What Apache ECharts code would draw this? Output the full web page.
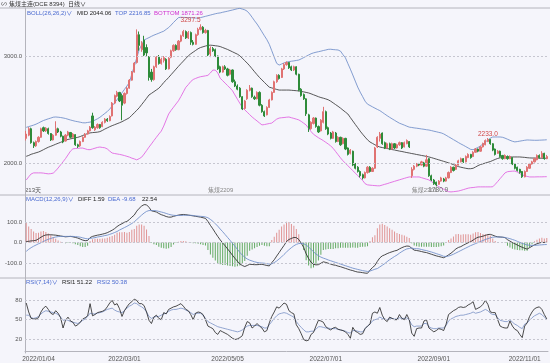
<!DOCTYPE html>
<html><head><meta charset="utf-8">
<script src="https://cdn.jsdelivr.net/npm/echarts/dist/echarts.min.js"></script>
<style>html,body{margin:0;padding:0;background:#f5f5fb}#c{width:550px;height:363px}</style>
</head><body><div id="c"></div>
<script>
// [open, close, low, high] per trading day
const candles = [
[2230,2270,2210,2300],[2260,2320,2250,2335],[2320,2190,2180,2330],[2190,2160,2140,2200],[2160,2200,2150,2210],[2200,2240,2190,2250],[2240,2320,2235,2330],[2330,2300,2290,2340],[2300,2325,2290,2335],[2320,2275,2265,2330],
[2275,2215,2205,2280],[2215,2260,2210,2270],[2260,2320,2255,2390],[2320,2290,2280,2330],[2290,2250,2240,2300],[2250,2196,2185,2255],[2205,2260,2200,2270],[2260,2290,2250,2300],[2285,2240,2230,2290],[2240,2270,2235,2280],
[2265,2170,2160,2270],[2170,2155,2140,2180],[2160,2200,2150,2210],[2200,2240,2195,2250],[2240,2270,2235,2280],[2270,2300,2265,2310],[2300,2335,2295,2345],[2440,2330,2320,2470],[2310,2335,2300,2345],[2330,2360,2320,2370],
[2360,2330,2320,2365],[2340,2380,2335,2390],[2380,2410,2370,2420],[2410,2395,2385,2420],[2395,2435,2390,2445],[2440,2560,2435,2570],[2560,2630,2550,2640],[2625,2660,2615,2675],[2660,2580,2570,2665],[2630,2540,2400,2645],
[2560,2650,2550,2660],[2650,2700,2640,2710],[2700,2775,2695,2785],[2775,2850,2770,2860],[2850,2935,2845,2945],[2940,3200,2930,3250],[3200,3100,3050,3230],[3060,3120,3040,3140],[3150,3010,3000,3190],[3080,3030,3000,3110],
[2990,2800,2770,3000],[2850,2780,2760,2880],[2780,2900,2770,2910],[2900,2990,2890,3000],[2990,2930,2920,3010],[2930,2970,2920,2985],[2960,2985,2940,3000],[2970,2880,2870,2980],[2880,2980,2875,2990],[2990,3050,2980,3060],
[3050,3100,3040,3110],[3100,3060,3050,3110],[3060,3140,3055,3150],[3140,3190,3130,3200],[3190,3230,3180,3245],[3230,3170,3160,3240],[3170,3220,3160,3235],[3220,3130,3105,3230],[3130,3110,3100,3150],[3110,3200,3105,3210],
[3200,3250,3190,3265],[3250,3270,3240,3297.5],[3270,3220,3210,3280],[3220,3240,3210,3255],[3240,3010,3000,3245],[3020,3070,2990,3090],[3070,3050,3040,3085],[3060,3000,2990,3070],[3000,2880,2870,3005],[2900,2850,2840,2910],
[2850,2900,2845,2910],[2900,2880,2870,2915],[2880,2820,2810,2890],[2830,2870,2820,2880],[2870,2760,2750,2875],[2760,2720,2710,2780],[2720,2690,2680,2735],[2700,2620,2610,2710],[2620,2505,2495,2625],[2510,2580,2500,2590],
[2600,2680,2590,2690],[2680,2700,2670,2729],[2700,2620,2610,2705],[2615,2600,2590,2630],[2600,2660,2595,2670],[2660,2540,2530,2670],[2540,2480,2470,2550],[2480,2440,2430,2490],[2450,2520,2445,2530],[2520,2590,2515,2600],
[2590,2660,2585,2670],[2660,2760,2655,2770],[2760,2820,2750,2830],[2820,2790,2780,2830],[2800,2880,2795,2890],[2880,2920,2870,2935],[2920,2940,2910,2950],[2940,2890,2880,2945],[2900,2870,2860,2910],[2870,2900,2860,2910],
[2900,2830,2820,2905],[2830,2680,2670,2835],[2690,2630,2620,2700],[2640,2600,2590,2650],[2600,2460,2440,2605],[2450,2320,2290,2460],[2320,2380,2310,2390],[2370,2420,2360,2430],[2420,2340,2330,2425],[2340,2290,2280,2350],
[2300,2400,2295,2410],[2380,2480,2370,2525],[2480,2320,2310,2490],[2330,2270,2260,2340],[2280,2230,2220,2290],[2230,2290,2225,2300],[2280,2200,2190,2290],[2200,2240,2195,2250],[2240,2170,2160,2245],[2180,2230,2175,2240],
[2230,2130,2120,2235],[2140,2080,2070,2145],[2090,2120,2080,2130],[2110,1980,1970,2115],[1990,1950,1940,2000],[1960,1920,1910,1970],[1920,1880,1865,1930],[1890,1860,1845,1900],[1860,1910,1855,1920],[1910,1960,1900,1970],
[1960,1920,1910,1970],[1920,1950,1915,1960],[1950,2140,1945,2150],[2150,2240,2140,2250],[2230,2270,2200,2290],[2280,2180,2170,2285],[2190,2140,2130,2200],[2140,2180,2135,2190],[2180,2130,2120,2190],[2130,2180,2125,2190],
[2180,2140,2130,2185],[2140,2170,2135,2180],[2170,2190,2160,2200],[2190,2140,2130,2195],[2150,2190,2145,2200],[2180,2210,2175,2220],[2200,2150,2140,2205],[1880,1940,1860,1960],[1940,1970,1930,1980],[1970,1990,1960,2000],
[1990,1980,1970,2000],[1980,2010,1975,2020],[2000,1970,1960,2010],[1970,2030,1965,2075],[2040,1880,1870,2045],[1880,1840,1830,1890],[1840,1805,1795,1850],[1820,1795,1780.9,1825],[1800,1830,1795,1840],[1830,1860,1825,1870],
[1850,1830,1820,1860],[1830,1860,1825,1870],[1860,1910,1855,1920],[1910,1960,1905,1970],[1960,1930,1920,1965],[1940,1980,1935,1990],[1980,2020,1975,2030],[2010,2040,2005,2050],[2040,2010,2000,2045],[2010,2060,2005,2070],
[2050,2080,2045,2090],[2080,2050,2040,2085],[2060,2100,2055,2110],[2100,2130,2095,2140],[2130,2110,2100,2135],[2110,2150,2105,2160],[2150,2180,2145,2190],[2170,2210,2165,2220],[2200,2220,2195,2233],[2220,2180,2170,2225],
[2180,2120,2110,2185],[2130,2080,2070,2135],[2090,2110,2085,2120],[2110,2060,2050,2115],[2070,2040,2030,2075],[2040,2070,2035,2080],[2060,2040,2030,2070],[2040,2060,2035,2070],[2050,1990,1980,2055],[1990,1950,1940,1995],
[1960,1930,1920,1965],[1940,1910,1900,1945],[1920,1870,1860,1925],[1870,1920,1865,1930],[1920,1960,1915,1970],[1950,1990,1945,2000],[1990,2010,1985,2020],[2010,2040,2005,2050],[2030,2070,2025,2080],[2070,2050,2040,2080],
[2050,2090,2045,2110],[2090,2040,2030,2095],[2040,2060,2035,2075]
];
const bollMid = [2062,2070,2081,2088,2095,2102,2112,2124,2136,2147,2156,2165,2175,2184,2193,2203,2213,2220,2225,2230,2235,2240,2247,2257,2266,2275,2281,2284,2286,2288,2293,2304,2317,2328,2339,2349,2358,2367,2376,2386,2398,2410,2423,2446,2469,2492,2516,2546,2575,2605,2636,2651,2667,2683,2699,2724,2753,2775,2800,2826,2852,2878,2904,2929,2953,2978,3002,3021,3037,3053,3069,3080,3087,3094,3100,3102,3100,3097,3094,3089,3080,3071,3062,3051,3040,3029,3018,3003,2980,2957,2934,2909,2881,2853,2826,2800,2777,2754,2731,2709,2702,2695,2688,2682,2682,2682,2682,2682,2680,2678,2676,2674,2669,2665,2660,2655,2647,2638,2629,2620,2612,2606,2599,2591,2578,2562,2546,2530,2513,2494,2476,2458,2425,2393,2361,2330,2298,2269,2242,2216,2196,2183,2170,2158,2149,2144,2139,2135,2130,2125,2121,2116,2111,2107,2102,2097,2093,2088,2084,2079,2075,2070,2066,2061,2056,2050,2043,2036,2029,2022,2015,2008,2001,1993,1984,1975,1966,1960,1955,1950,1946,1946,1950,1962,1975,1985,1992,1999,2006,2013,2023,2033,2042,2048,2051,2053,2055,2056,2056,2056,2056,2056,2054,2052,2049,2047,2046,2046,2045,2045,2044,2044,2044.06];
const bollTop = [2333,2340,2347,2354,2363,2374,2386,2397,2405,2413,2420,2428,2430,2428,2425,2421,2416,2409,2402,2396,2390,2386,2381,2376,2375,2379,2382,2389,2401,2413,2427,2445,2463,2481,2504,2533,2564,2592,2624,2656,2688,2720,2752,2831,2903,2983,3059,3105,3150,3162,3173,3185,3196,3205,3214,3224,3233,3250,3267,3290,3315,3338,3360,3363,3362,3361,3360,3359,3358,3356,3355,3360,3366,3372,3378,3384,3390,3396,3401,3404,3410,3415,3420,3426,3431,3437,3443,3447,3440,3433,3420,3394,3363,3330,3300,3265,3227,3190,3154,3110,3050,2990,2932,2916,2926,2936,2944,2948,2952,2955,2959,2963,2974,2986,2998,3010,3022,3030,3036,3041,3046,3052,3057,3063,3064,3061,3059,3057,3046,3013,2984,2930,2878,2823,2766,2710,2663,2621,2578,2550,2538,2525,2513,2501,2490,2474,2458,2442,2427,2413,2399,2385,2372,2363,2354,2344,2335,2332,2328,2325,2322,2318,2315,2311,2308,2303,2297,2292,2286,2281,2272,2259,2245,2232,2218,2205,2191,2178,2166,2153,2140,2127,2124,2135,2145,2160,2178,2196,2214,2232,2243,2243,2243,2243,2240,2232,2222,2212,2203,2197,2200,2204,2208,2212,2215,2214,2213,2212,2212,2213,2214,2215,2216.85];
const bollBottom = [1840,1870,1897,1907,1907,1907,1907,1905,1901,1898,1900,1905,1926,1953,1982,2011,2041,2075,2110,2132,2135,2137,2139,2139,2132,2125,2124,2131,2138,2145,2149,2145,2142,2131,2111,2093,2088,2084,2080,2075,2069,2062,2055,2045,2038,2029,2040,2054,2083,2115,2148,2178,2210,2240,2270,2298,2345,2402,2458,2492,2522,2552,2582,2622,2665,2708,2733,2762,2781,2791,2800,2807,2811,2815,2820,2842,2869,2869,2843,2793,2770,2747,2724,2701,2676,2636,2597,2558,2520,2497,2475,2452,2430,2411,2393,2374,2356,2359,2364,2369,2373,2392,2410,2420,2423,2425,2428,2430,2423,2417,2410,2403,2389,2372,2355,2324,2294,2268,2252,2236,2223,2209,2193,2177,2159,2137,2107,2077,2047,2020,1997,1974,1951,1928,1905,1882,1858,1837,1806,1795,1792,1790,1788,1786,1786,1793,1800,1806,1814,1821,1828,1835,1842,1849,1856,1863,1869,1869,1869,1869,1869,1862,1855,1848,1841,1826,1810,1795,1778,1766,1754,1741,1731,1729,1731,1734,1737,1743,1750,1757,1764,1768,1770,1773,1776,1776,1776,1776,1776,1776,1777,1800,1826,1853,1880,1907,1918,1921,1923,1924,1915,1900,1888,1881,1874,1869,1869,1869,1870,1870,1870,1871,1871.26];
const macdDiff = [5,6,8,9,11,18,26,33,37,38,38,37,36,34,32,30,28,29,30,28,25,22,17,12,9,10,24,30,33,36,38,41,44,48,54,60,68,78,86,92,99,103,112,124,134,153,167,178,185,184,172,155,152,149,142,136,132,127,124,124,128,131,134,136,137,136,134,132,130,128,126,124,121,118,103,84,67,48,30,13,-2,-16,-31,-46,-62,-77,-91,-104,-112,-117,-112,-106,-107,-108,-108,-107,-106,-109,-112,-114,-98,-84,-66,-49,-31,-14,5,15,20,25,24,15,-3,-24,-55,-78,-96,-106,-109,-108,-101,-94,-97,-101,-105,-109,-111,-115,-118,-122,-126,-130,-134,-137,-141,-144,-145,-147,-149,-150,-135,-122,-112,-92,-75,-65,-60,-54,-49,-45,-41,-38,-31,-25,-20,-17,-18,-28,-37,-39,-41,-44,-47,-49,-53,-57,-61,-65,-68,-71,-74,-68,-60,-52,-42,-31,-24,-20,-13,-7,-1,4,12,20,26,28,31,35,39,40,36,31,28,27,26,24,14,7,0,-6,-12,-18,-23,-28,-32,-25,-18,-11,-6,-2,1,0,1.59];
const macdDea = [-43,-33,-25,-18,-12,-6,-1,5,11,16,20,24,27,29,30,30,30,30,30,30,29,28,26,23,20,18,20,22,24,27,29,31,34,36,40,44,49,54,61,67,73,79,86,93,101,112,123,134,144,152,156,156,156,155,152,149,146,142,138,135,133,132,132,132,133,133,133,133,132,130,129,128,127,125,121,113,104,92,80,66,53,39,25,11,-4,-18,-33,-48,-61,-72,-80,-86,-90,-94,-97,-99,-100,-101,-103,-105,-104,-98,-90,-80,-70,-58,-46,-35,-25,-16,-9,-5,-4,-6,-12,-22,-33,-45,-56,-64,-71,-76,-80,-85,-89,-93,-97,-101,-105,-109,-113,-117,-121,-125,-128,-131,-134,-137,-139,-141,-139,-135,-130,-127,-119,-111,-103,-93,-84,-76,-68,-61,-52,-44,-37,-31,-29,-26,-30,-30,-31,-34,-37,-39,-43,-46,-50,-54,-58,-62,-67,-68,-66,-62,-57,-51,-45,-39,-33,-27,-21,-15,-10,-5,0,5,10,15,19,23,26,27,27,27,26,25,22,19,15,11,6,1,-4,-8,-12,-13,-14,-14,-13,-12,-11,-10,-9.68];
const macdHist = [96,78,66,54,46,48,54,56,52,44,36,26,18,10,4,0,-4,-2,0,-4,-8,-12,-18,-22,-22,-16,8,16,18,18,18,20,20,24,28,32,38,48,50,50,52,48,52,62,66,82,88,88,82,64,32,-2,-8,-12,-20,-26,-28,-30,-28,-22,-10,-2,4,8,8,6,2,-2,-4,-4,-6,-8,-12,-14,-36,-58,-74,-88,-100,-106,-110,-110,-112,-114,-116,-118,-116,-112,-102,-90,-64,-40,-34,-28,-22,-16,-12,-16,-18,-18,12,28,48,62,78,88,102,100,90,82,66,40,2,-36,-86,-112,-126,-122,-106,-88,-60,-36,-34,-32,-32,-32,-28,-28,-26,-26,-26,-26,-26,-24,-26,-26,-22,-20,-20,-18,8,26,36,70,88,92,86,78,70,62,54,46,42,38,34,28,22,-4,-14,-18,-20,-20,-20,-20,-20,-22,-22,-22,-20,-18,-14,0,12,20,30,40,42,38,40,40,40,38,44,50,52,46,42,40,40,34,20,8,2,0,0,-2,-16,-24,-30,-34,-36,-38,-38,-40,-40,-24,-8,6,14,20,24,20,22.54];
const rsi1 = [76,62,52,51,51,53,62,68,71,66,60,58,64,60,53,37,49,54,48,46,40,42,46,51,53,56,75,56,58,61,62,63,65,70,76,80,73,75,67,55,64,70,75,78,82,80,75,75,72,62,49,44,54,57,52,50,61,59,66,68,70,71,73,75,71,66,64,58,50,60,62,61,58,50,40,38,36,30,27,33,31,29,27,24,21,19,20,22,25,38,47,45,37,40,44,40,37,31,33,45,55,62,70,68,72,76,74,64,61,59,42,36,28,19,17,18,27,30,40,49,48,46,39,36,34,37,38,35,34,33,31,27,21,38,32,30,27,28,36,40,43,60,62,60,69,57,50,47,54,52,50,50,58,52,50,58,50,29,24,36,37,37,48,50,37,34,31,33,36,35,33,43,58,61,64,66,69,70,69,70,73,75,78,66,68,70,74,80,74,62,61,61,50,40,38,37,37,48,40,35,33,27,22,40,45,55,62,67,69,70,66,58,51.22];
const rsi2 = [57,57,53,52,53,55,59,62,64,63,62,61,60,58,54,49,50,49,47,46,45,44,46,49,51,55,60,59,59,60,61,62,64,66,67,68,65,63,62,61,64,68,71,73,76,75,72,70,67,62,55,52,54,55,55,57,59,60,63,65,66,66,67,68,67,65,63,61,58,60,60,60,57,52,47,45,43,41,39,38,37,36,35,34,33,32,31,32,34,37,40,41,41,41,41,40,39,37,37,42,47,52,56,59,60,61,60,58,56,54,47,42,38,34,31,31,32,32,35,39,39,38,37,37,36,36,36,35,34,33,32,30,29,33,33,32,31,31,36,40,43,48,50,51,54,52,51,50,52,52,51,51,53,52,52,53,49,42,39,40,40,40,44,44,39,37,36,36,37,37,37,41,48,51,53,55,56,57,57,58,59,60,62,60,61,62,64,66,64,60,58,58,53,49,48,47,47,50,46,43,41,38,36,43,45,49,53,56,58,60,58,54,50.38];

const priceTicks = [2000, 3000];
const macdTicks = [-100, 0, 100];
const rsiTicks = [20, 50, 80];
const xLabelDates = ['2022/01/04','2022/03/01','2022/05/05','2022/07/01','2022/09/01','2022/11/01'];
const priceNotes = [{idx: 71, pos: 'top', color: '#d04848', dx: -10}, {idx: 188, pos: 'top', color: '#d04848', dx: 0}, {idx: 167, pos: 'bottom', color: '#666', dx: 2}];
const contractNotes = [{idx: 74, name: '焦煤2209'}, {idx: 157, name: '焦煤2301'}];
const holidays = new Set(['2022/01/03','2022/01/31','2022/02/01','2022/02/02','2022/02/03','2022/02/04','2022/04/04','2022/04/05','2022/05/02','2022/05/03','2022/05/04','2022/06/03','2022/09/12','2022/10/03','2022/10/04','2022/10/05','2022/10/06','2022/10/07']);

const dates = [];
for (let d = new Date(Date.UTC(2021, 11, 27)); dates.length < candles.length; d.setUTCDate(d.getUTCDate() + 1)) {
  const wd = d.getUTCDay();
  const s = d.toISOString().slice(0, 10).replace(/-/g, '/');
  if (wd === 0 || wd === 6 || holidays.has(s)) continue;
  dates.push(s);
}

const FONT = '"Liberation Sans","Noto Sans CJK SC",sans-serif';
const AX = '#b4b4bc';
const BLUE = '#4a6ad0';
const last = a => a[a.length - 1];
const grids = [
  {left: 25, width: 523, top: 8, height: 187},
  {left: 25, width: 523, top: 195, height: 83},
  {left: 25, width: 523, top: 278, height: 75}
];
const ranges = [[1700, 3450], [-173, 232], [-2, 115]];

function gridMarks(ticks, fmt) {
  return {
    silent: true, symbol: 'none', animation: false,
    lineStyle: {type: [2, 2], color: '#c6c6d0', width: 1},
    label: {position: 'start', formatter: p => fmt(p.value), fontSize: 6, color: '#555', distance: 3, fontFamily: FONT},
    emphasis: {disabled: true},
    data: ticks.map(v => ({yAxis: v}))
  };
}
const lineS = (name, data, color, xi, extra) => Object.assign({
  name, type: 'line', data, xAxisIndex: xi, yAxisIndex: xi, showSymbol: false, silent: true,
  lineStyle: {color, width: 0.85}, itemStyle: {color}, z: 3
}, extra || {});

const T = (x, y, text, fill) => ({type: 'text', x, y, silent: true,
  style: {text, fill, font: '6px ' + FONT, verticalAlign: 'middle'}});
const HL = (y, x1) => ({type: 'line', silent: true, shape: {x1: x1, y1: y, x2: 550, y2: y}, style: {stroke: AX, lineWidth: 1}});

const option = {
  backgroundColor: '#f5f5fb',
  animation: false,
  textStyle: {fontFamily: FONT},
  grid: grids,
  xAxis: [0, 1, 2].map(k => ({
    type: 'category', gridIndex: k, data: dates, boundaryGap: true,
    axisLine: {show: k === 2, lineStyle: {color: AX}},
    axisTick: {show: false},
    axisLabel: k === 2 ? {show: true, interval: (i, v) => xLabelDates.includes(v), fontSize: 6.5, color: '#555', margin: 3, fontFamily: FONT} : {show: false},
    splitLine: {show: false}
  })),
  yAxis: [0, 1, 2].map(k => ({
    type: 'value', gridIndex: k, min: ranges[k][0], max: ranges[k][1],
    axisLine: {show: true, lineStyle: {color: AX}},
    axisTick: {show: false}, axisLabel: {show: false}, splitLine: {show: false}
  })),
  series: [
    lineS('TOP', bollTop, '#6e8cc8', 0),
    lineS('BOTTOM', bollBottom, '#e060e0', 0, {markLine: gridMarks(priceTicks, v => v.toFixed(1))}),
    {
      type: 'candlestick', data: candles, xAxisIndex: 0, yAxisIndex: 0, barWidth: '68%', silent: true, z: 4,
      itemStyle: {color: '#e07878', color0: '#2e8b3a', borderColor: '#e07272', borderColor0: '#2e8b3a', borderWidth: 1},
      markPoint: {
        silent: true, symbol: 'circle', symbolSize: 0, animation: false,
        data: priceNotes.map(n => ({
          coord: [n.idx, n.pos === 'top' ? candles[n.idx][3] : candles[n.idx][2]],
          value: n.pos === 'top' ? candles[n.idx][3] : candles[n.idx][2],
          label: {show: true, position: n.pos, distance: 1, offset: [n.dx, 0], color: n.color, fontSize: 6.5, fontFamily: FONT,
                  formatter: p => Number(p.value).toFixed(1)}
        })).concat(contractNotes.map(c => ({
          coord: [c.idx, 1745], value: c.name,
          label: {show: true, position: 'right', distance: 0, color: '#888', fontSize: 6, fontFamily: FONT, formatter: p => p.data.value}
        })))
      }
    },
    lineS('MID', bollMid, '#3a3a3a', 0),
    {
      name: 'MACD', type: 'bar', data: macdHist, xAxisIndex: 1, yAxisIndex: 1, barWidth: 1, silent: true,
      itemStyle: {color: p => p.value >= 0 ? '#e09494' : '#62aa62'}
    },
    lineS('DIFF', macdDiff, '#2a2a2a', 1, {markLine: gridMarks(macdTicks, v => v.toFixed(1))}),
    lineS('DEA', macdDea, '#6e8cc8', 1),
    lineS('RSI2', rsi2, '#8096c8', 2, {markLine: gridMarks(rsiTicks, v => String(v))}),
    lineS('RSI1', rsi1, '#2a2a2a', 2)
  ],
  graphic: [
    HL(8, 0), HL(195, 0), HL(278, 0),
    T(1, 4, '∽', '#555'), T(9, 4, '焦煤主连(DCE 8394)', '#333'), T(68, 4, '日线∨', '#333'),
    T(27, 13, 'BOLL(26,26,2)∨', BLUE),
    T(77, 13, 'MID ' + last(bollMid).toFixed(2), '#222'),
    T(115, 13, 'TOP ' + last(bollTop).toFixed(2), BLUE),
    T(154, 13, 'BOTTOM ' + last(bollBottom).toFixed(2), '#d030d0'),
    T(25, 190, candles.length + '天', '#555'),
    T(26, 199, 'MACD(12,26,9)∨', BLUE),
    T(78, 199, 'DIFF ' + last(macdDiff).toFixed(2), '#222'),
    T(108, 199, 'DEA ' + last(macdDea).toFixed(2), BLUE),
    T(142, 199, last(macdHist).toFixed(2), '#222'),
    T(26, 282, 'RSI(7,14)∨', BLUE),
    T(62, 282, 'RSI1 ' + last(rsi1).toFixed(2), '#222'),
    T(97, 282, 'RSI2 ' + last(rsi2).toFixed(2), BLUE)
  ]
};
const chart = echarts.init(document.getElementById('c'), null, {renderer: 'canvas'});
chart.setOption(option);
</script>
</body></html>
